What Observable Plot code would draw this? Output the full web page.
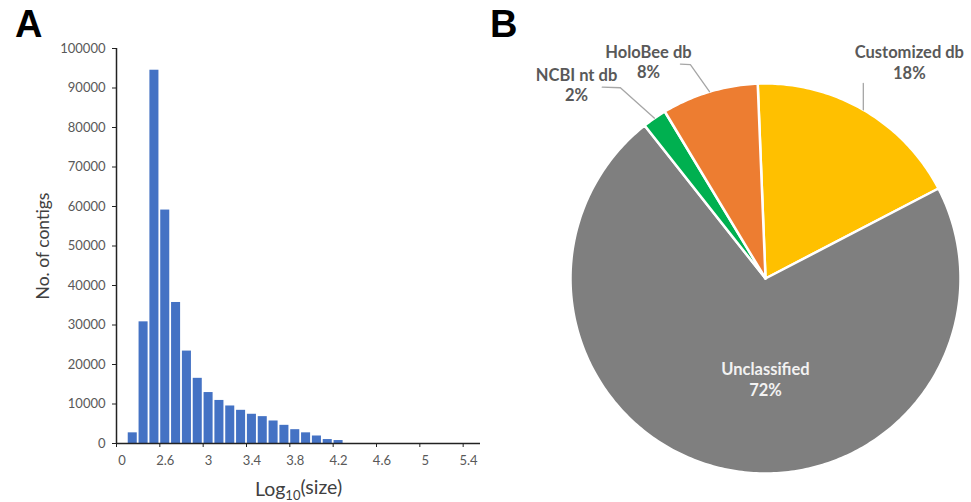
<!DOCTYPE html>
<html><head><meta charset="utf-8">
<script src="https://cdn.jsdelivr.net/npm/d3@7"></script>
<script src="https://cdn.jsdelivr.net/npm/@observablehq/plot@0.6"></script>
<style>
body{margin:0;background:#fff;}
#wrap{position:relative;width:971px;height:502px;overflow:hidden;background:#fff;}
#left{position:absolute;left:0;top:0;}
#right{position:absolute;left:490px;top:0;}
.panel{position:absolute;font-family:"Liberation Sans",Arial,sans-serif;font-weight:bold;font-size:38px;color:#000;line-height:1;}
</style></head><body>
<div id="wrap">
  <div id="left"></div>
  <div id="right"></div>
  <div class="panel" style="left:15px;top:5px">A</div>
  <div class="panel" style="left:490px;top:5px">B</div>
</div>
<script>
// ---------- Panel A: histogram of contig sizes ----------
const binLabels = ["0","2.3","2.4","2.5","2.6","2.7","2.8","2.9","3","3.1","3.2","3.3","3.4","3.5","3.6","3.7","3.8","3.9","4","4.1","4.2","4.3","4.4","4.5","4.6","4.7","4.8","4.9","5","5.1","5.2","5.3","5.4","5.5"];
const contigCounts = [0,2700,30800,94500,59100,35700,23400,16500,12900,10900,9500,8400,7400,6800,5700,4600,3500,2700,1900,1000,750,0,0,0,0,0,0,0,0,0,0,0,0,0];
const xTickLabels = ["0","2.6","3","3.4","3.8","4.2","4.6","5","5.4"];
const yTicks = [0,10000,20000,30000,40000,50000,60000,70000,80000,90000,100000];

// ---------- Panel B: classification pie ----------
const pieNames = ["Customized db","Unclassified","NCBI nt db","HoloBee db"];
const piePct = [18,72,2,8];
const pieColors = ["#FFC000","#7F7F7F","#00B050","#ED7D31"];

// ---- Panel A ----
const bins = binLabels.map((b,i) => ({bin:b, i, count: contigCounts[i]}));
const tickIdx = xTickLabels.map(l => binLabels.indexOf(l));

const left = Plot.plot({
  width: 490, height: 502,
  marginLeft: 116, marginRight: 10, marginTop: 48, marginBottom: 59,
  style: {fontFamily: "Lato, sans-serif", fontSize: "13px", color: "#595959", background: "white"},
  x: {type: "linear", domain: [0, 33.6]},
  y: {domain: [0, 100000]},
  marks: [
    Plot.rectY(bins.filter(d => d.count > 0), {x1: d => d.i, x2: d => d.i + 1, y: "count", insetLeft: 0.9, insetRight: 0.9, fill: "#4472C4"}),
    Plot.axisY({ticks: yTicks, tickFormat: d => String(d), tickSize: 4, tickPadding: 7, stroke: "#222", fill: "#595959", label: null, fontSize: 13}),
    Plot.axisX({ticks: tickIdx, tickFormat: () => "", tickSize: 4, stroke: "#222", label: null}),
    Plot.axisX({ticks: tickIdx.map(i => i + 0.5), tickFormat: (d, k) => xTickLabels[k], tickSize: 0, tickPadding: 12, fill: "#595959", label: null, fontSize: 13}),
    Plot.ruleY([0], {stroke: "#222", strokeWidth: 1.5}),
    Plot.ruleX([0], {stroke: "#222", strokeWidth: 1.5}),
    Plot.text(["No. of contigs"], {text: d => d, frameAnchor: "left", dx: -73, rotate: -90, textAnchor: "middle", lineAnchor: "middle", fontSize: 17.5, fill: "#404040"}),
    Plot.text(["Log10(size)"], {text: d => d, frameAnchor: "bottom", dy: 46, textAnchor: "middle", lineAnchor: "middle", fontSize: 19.5, fill: "#404040"})
  ]
});
document.getElementById("left").appendChild(left);
// subscript for Log10
d3.select(left).selectAll("text").filter(function(){ return this.textContent === "Log10(size)"; }).each(function(){
  const t = d3.select(this);
  t.text("");
  t.append("tspan").text("Log");
  t.append("tspan").attr("dy", "0.3em").attr("font-size", "13px").text("10");
  t.append("tspan").attr("dy", "-0.3em").text("(size)");
});

// ---- Panel B ----
const startAngle = -0.04;
const arcs = d3.pie().sort(null).startAngle(startAngle).endAngle(startAngle + 2 * Math.PI)(piePct);
const polar = (a, r) => ({x: r * Math.sin(a), y: r * Math.cos(a)});
const slicePts = arcs.flatMap((a, i) => {
  const n = Math.max(4, Math.ceil((a.endAngle - a.startAngle) / 0.015));
  const pts = [{name: pieNames[i], x: 0, y: 0}];
  for (let k = 0; k <= n; k++) {
    const t = a.startAngle + (a.endAngle - a.startAngle) * k / n;
    pts.push({name: pieNames[i], ...polar(t, 1)});
  }
  return pts;
});
const mid = a => (a.startAngle + a.endAngle) / 2;

// label placement (Excel's manual layout), in pie-radius units relative to the slice's edge at mid-angle
const labelLayout = {
  "Customized db": {dx: 0.236, dy: 0.245, leader: [[0, 0.135]]},
  "Unclassified": {inside: true, r: 0.513, turn: -0.211},
  "NCBI nt db":   {dx: -0.40, dy: 0.173, leader: [[-0.175, 0.156], [-0.268, 0.159]]},
  "HoloBee db":   {dx: -0.313, dy: 0.155, leader: [[-0.098, 0.139], [-0.149, 0.142]]}
};
const labels = arcs.map((a, i) => {
  const L = labelLayout[pieNames[i]];
  const edge = polar(mid(a), 1);
  const pos = L.inside ? polar(mid(a) + L.turn, L.r) : {x: edge.x + L.dx, y: edge.y + L.dy};
  return {name: pieNames[i], pct: piePct[i], inside: !!L.inside, ...pos, edge, leader: L.leader};
});
const leaderPts = labels.filter(d => d.leader).flatMap(d =>
  [{name: d.name, x: d.edge.x, y: d.edge.y}, ...d.leader.map(([dx, dy]) => ({name: d.name, x: d.edge.x + dx, y: d.edge.y + dy}))]
);

const right = Plot.plot({
  width: 481, height: 502,
  marginLeft: 80, marginRight: 11, marginTop: 83, marginBottom: 29,
  style: {fontFamily: "Lato, sans-serif", background: "white"},
  x: {domain: [-1, 1], axis: null},
  y: {domain: [-1, 1], axis: null},
  color: {domain: pieNames, range: pieColors},
  marks: [
    Plot.line(slicePts, {x: "x", y: "y", z: "name", fill: "name", stroke: "white", strokeWidth: 2.5, curve: "linear-closed"}),
    Plot.line(leaderPts, {x: "x", y: "y", z: "name", stroke: "#A6A6A6", strokeWidth: 1.3}),
    Plot.text(labels.filter(d => !d.inside), {x: "x", y: "y", text: d => d.name + "\n" + d.pct + "%", fill: "#595959", fontWeight: "bold", fontSize: 16.5, lineHeight: 1.22, textAnchor: "middle"}),
    Plot.text(labels.filter(d => d.inside), {x: "x", y: "y", text: d => d.name + "\n" + d.pct + "%", fill: "#F2F2F2", fontWeight: "bold", fontSize: 16.5, lineHeight: 1.3, textAnchor: "middle"})
  ]
});
document.getElementById("right").appendChild(right);
</script>
</body></html>
